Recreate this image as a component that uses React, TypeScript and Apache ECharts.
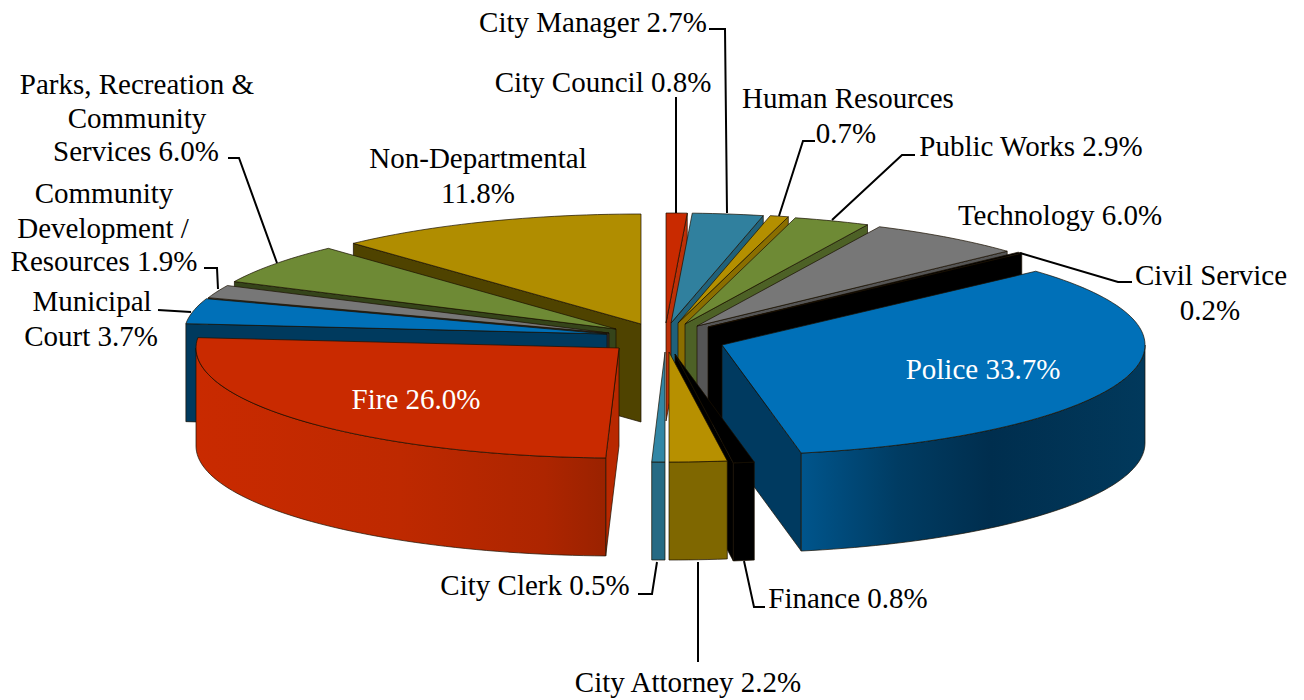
import React, { useEffect, useRef } from "react";
import * as echarts from "echarts";

// ---- data, clockwise from 12 o'clock ----
const departments = [
  "City Council", "City Manager", "Human Resources", "Public Works", "Technology",
  "Civil Service", "Police", "Finance", "City Attorney", "City Clerk", "Fire",
  "Municipal Court", "Community Development / Resources",
  "Parks, Recreation & Community Services", "Non-Departmental",
];
const shares = [0.8, 2.7, 0.7, 2.9, 6.0, 0.2, 33.7, 0.8, 2.2, 0.5, 26.0, 3.7, 1.9, 6.0, 11.8];

// ---- look ----
const topColors = ["#C92A00", "#30809E", "#B48F00", "#6E8A35", "#777777", "#000000", "#0070B8", "#000000", "#B79000", "#3286A5", "#C92A00", "#0070B8", "#777777", "#6E8A35", "#B08D00"];
const cutColors = ["#BD3008", "#20617A", "#8A6E00", "#4D6126", "#555555", "#000000", "#003A60", "#000000", "#7F6700", "#266A84", "#B82800", "#003A5E", "#2E2E2E", "#35441A", "#4F4300"];
const wallColors = ["#BD3008", "#20617A", "#8A6E00", "#4D6126", "#555555", "#000000", "#003A60", "#000000", "#7F6700", "#266A84", "#A82400", "#003A5E", "#2E2E2E", "#35441A", "#4F4300"];

// ---- 3D layout: where each exploded slice's apex falls, the ellipse radii and the wall height ----
const apexes = [
  [666, 323], [671, 323], [678, 323], [685, 324], [697, 326], [708, 327], [722, 345], [675, 354],
  [669, 352], [665, 352], [619, 348], [607, 334], [609, 333], [616, 329], [641, 324],
];
const RX = 423;
const RY = 110;
const WALL = 98;
const drawOrder = [14, 13, 12, 11, 10, 0, 1, 2, 3, 4, 5, 6, 7, 8, 9];

const FONT = "Liberation Serif";
const FS = 29;
const pct = (i: number) => `${shares[i].toFixed(1)}%`;

// ---- labels: text lines with centre x / centre y ----
const labels: [string, number, number, string?][] = [
  [`${departments[1]} ${pct(1)}`, 593, 22],
  [`${departments[0]} ${pct(0)}`, 603, 82],
  [departments[2], 848, 98],
  [pct(2), 846, 133],
  [`${departments[3]} ${pct(3)}`, 1031, 146],
  [`${departments[4]} ${pct(4)}`, 1060, 215],
  [departments[5], 1211, 275],
  [pct(5), 1210, 310],
  [`Police ${pct(6)}`, 983, 369, "#FFFFFF"],
  [`Fire ${pct(10)}`, 416, 399, "#FFFFFF"],
  [`${departments[7]} ${pct(7)}`, 848, 598],
  [`${departments[8]} ${pct(8)}`, 688, 682],
  [`${departments[9]} ${pct(9)}`, 535, 585],
  ["Municipal", 92, 301],
  [`Court ${pct(11)}`, 91, 336],
  ["Community", 104, 193],
  ["Development /", 103, 228],
  [`Resources ${pct(12)}`, 104, 261],
  ["Parks, Recreation &", 137, 84],
  ["Community", 137, 118],
  [`Services ${pct(13)}`, 136, 151],
  [departments[14], 478, 158],
  [pct(14), 478, 193],
];

const leaders: number[][][] = [
  [[676, 97], [676, 213]],
  [[709, 29], [725, 29], [727, 213]],
  [[815, 141], [803, 141], [779, 216]],
  [[915, 155], [902, 155], [832, 220]],
  [[1132, 282], [1118, 282], [1020, 253]],
  [[765, 607], [754, 607], [744, 561]],
  [[698, 562], [698, 662]],
  [[638, 594], [652, 594], [657, 562]],
  [[158, 310], [191, 312]],
  [[204, 268], [217, 268], [218, 289]],
  [[228, 158], [239, 158], [277, 263]],
];

// The printed shares are rounded and add up to 99.9; the circle is still read as 100,
// and the last slice closes it at 12 o'clock.
const FULL_CIRCLE = 100;
const startAngles: number[] = [];
shares.reduce((acc, v, i) => {
  startAngles[i] = (acc / FULL_CIRCLE) * 360;
  return acc + v;
}, 0);

const rad = (d: number) => (d * Math.PI) / 180;
const EDGE = "rgba(25,15,0,0.7)";

function renderSlice(params: any, api: any) {
  const i = api.value(0) as number;
  const v = api.value(1) as number;
  const a0 = startAngles[i];
  const a1 = i === shares.length - 1 ? 360 : a0 + (v / FULL_CIRCLE) * 360;
  const [ax, ay] = apexes[i];
  const rim = (t: number) => [ax + RX * Math.sin(rad(t)), ay - RY * Math.cos(rad(t))];
  const arc = (from: number, to: number) => {
    const n = Math.max(2, Math.ceil((to - from) / 1.5));
    const out: number[][] = [];
    for (let k = 0; k <= n; k++) out.push(rim(from + ((to - from) * k) / n));
    return out;
  };
  const drop = (p: number[]) => [p[0], p[1] + WALL];
  const poly = (points: number[][], fill: any) => ({
    type: "polygon",
    shape: { points },
    style: { fill, stroke: EDGE, lineWidth: 1 },
    silent: true,
  });
  const children: any[] = [];
  const cut = (t: number) => {
    const p = rim(t);
    children.push(poly([[ax, ay], p, drop(p), [ax, ay + WALL]], cutColors[i]));
  };
  if (Math.sin(rad(a1)) > 0.01) cut(a1);
  if (Math.sin(rad(a0)) < -0.01) cut(a0);

  const w0 = Math.max(a0, 90);
  const w1 = Math.min(a1, 270);
  if (w1 > w0) {
    const top = arc(w0, w1);
    let fill: any = wallColors[i];
    if (departments[i] === "Police") {
      fill = new echarts.graphic.LinearGradient(0, 0, 1, 0, [
        { offset: 0, color: "#00558C" },
        { offset: 0.28, color: "#003C63" },
        { offset: 0.55, color: "#002E4E" },
        { offset: 1, color: "#01395C" },
      ]);
    } else if (departments[i] === "Fire") {
      fill = new echarts.graphic.LinearGradient(0, 0, 1, 0, [
        { offset: 0, color: "#C92A00" },
        { offset: 0.5, color: "#BE2900" },
        { offset: 0.85, color: "#AD2500" },
        { offset: 1, color: "#9A2200" },
      ]);
    }
    children.push(poly([...top, ...top.slice().reverse().map(drop)], fill));
  }
  children.push(poly([[ax, ay], ...arc(a0, a1)], topColors[i]));
  return { type: "group", children };
}

export default function App() {
  const ref = useRef<HTMLDivElement>(null);
  useEffect(() => {
    document.body.style.margin = "0";
    const chart = echarts.init(ref.current!, undefined, { renderer: "svg" });
    chart.setOption({
      animation: false,
      backgroundColor: "#FFFFFF",
      series: [
        {
          type: "custom",
          coordinateSystem: "none",
          renderItem: renderSlice,
          data: drawOrder.map((i) => [i, shares[i]]),
          silent: true,
        },
      ],
      graphic: {
        elements: [
          ...leaders.map((pts) => ({
            type: "polyline",
            z: 10,
            silent: true,
            shape: { points: pts },
            style: { fill: "none", stroke: "#000000", lineWidth: 2 },
          })),
          ...labels.map(([text, x, y, color]) => ({
            type: "text",
            z: 11,
            silent: true,
            x,
            y,
            style: {
              text,
              fill: color || "#000000",
              font: `${FS}px "${FONT}"`,
              textAlign: "center",
              textVerticalAlign: "middle",
            },
          })),
        ],
      },
    });
    return () => chart.dispose();
  }, []);
  return <div ref={ref} style={{ width: 1304, height: 700 }} />;
}
